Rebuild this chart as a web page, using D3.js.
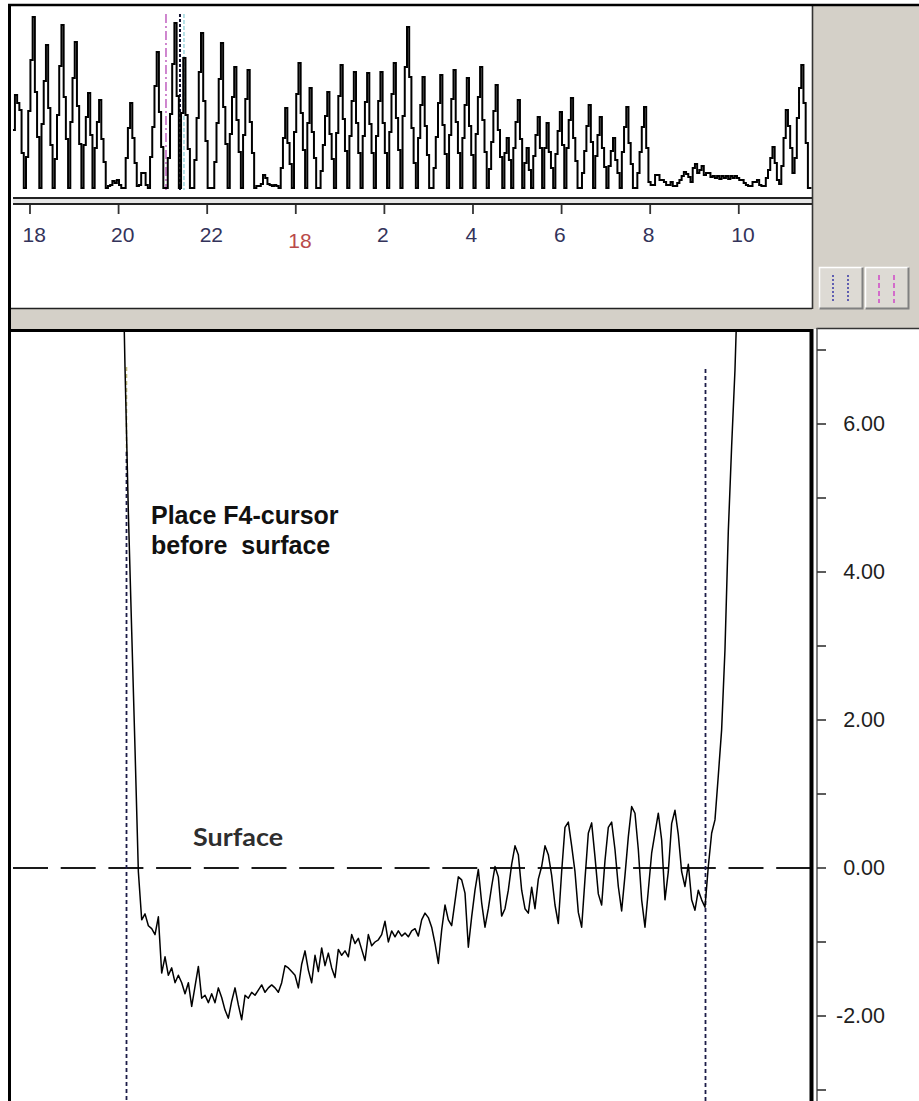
<!DOCTYPE html>
<html>
<head>
<meta charset="utf-8">
<script src="https://cdn.jsdelivr.net/npm/d3@7"></script>
<style>
  html, body { margin: 0; padding: 0; background: #ffffff; }
  svg { display: block; }
</style>
</head>
<body>
<svg id="chart" width="919" height="1101"></svg>
<script>
// ---------------- Overview record (3-minute samples) ----------------
const overviewStart = 17.61;   // hours, first sample
const overviewStep = 0.05;     // hours between samples (3 min)
const overviewValues = [
  58, 93, 85, 78, 35, 0,
  31, 77, 128, 171, 96, 51,
  0, 64, 107, 143, 80, 43,
  0, 29, 73, 122, 163, 91, 49,
  0, 66, 110, 146, 82, 44,
  0, 43, 71, 95, 53,
  0, 40, 66, 88, 49, 26,
  0, 2, 3, 7, 5, 8, 3, 0, 0,
  30, 60, 85, 50, 25,
  2, 3, 15, 15, 3, 0,
  31, 61, 102, 136, 76, 41,
  0, 0,
  30, 74, 124, 165, 92,
  0, 75, 130, 73, 39,
  0, 0,
  28, 70, 116, 155, 87, 47,
  0, 0, 0,
  26, 65, 109, 145, 81, 44,
  0, 54, 91, 121, 68, 36,
  0, 53, 89, 118, 66, 35,
  0, 2, 2, 4, 13, 10, 4, 3, 2, 3, 2, 0,
  20, 50, 80, 45, 24,
  0, 56, 94, 125, 75, 38,
  0, 65, 100, 56, 30,
  0, 0,
  17, 43, 72, 96, 54, 29,
  0, 55, 92, 123, 69, 37,
  0, 52, 87, 116, 65, 35,
  0, 52, 86, 115, 64, 35,
  0, 52, 87, 116, 65, 35,
  0, 56, 94, 125, 70, 38,
  0, 72, 121, 161, 111, 60, 25,
  0, 50, 83, 111, 62, 33,
  0, 0,
  20, 51, 85, 113, 63, 34,
  0, 53, 89, 118, 66, 35,
  0, 50, 83, 110, 62, 33,
  0, 54, 91, 121, 68, 36,
  0, 19, 46, 77, 103, 58, 31,
  0, 35, 50, 28,
  0, 40, 66, 88, 49,
  0, 25, 40, 18,
  0, 32, 53, 71, 40,
  0, 40, 65, 36, 20,
  0, 34, 57, 76, 43,
  0, 40, 68, 90, 50, 27,
  0, 0,
  15, 37, 62, 83, 46,
  0, 32, 53, 71, 40, 21,
  0, 22, 37, 50, 28, 15,
  0, 36, 61, 81, 45, 24,
  0, 0,
  15, 36, 61, 81, 40,
  6, 3, 3, 13, 13, 8, 8, 6, 3, 3, 6, 2, 2, 5, 8, 12, 16, 14, 11, 6,
  20, 24, 15, 18, 22, 13, 15, 15, 11, 12, 10, 12, 9, 12, 10, 12, 9, 12, 10, 12,
  10, 8, 8, 5, 3, 2, 2, 6, 6, 8, 3, 2, 2, 10, 18, 30, 41, 25, 8, 4,
  22, 50, 78, 62, 40, 15, 30, 70, 100, 123, 85, 45, 0, 0, 0
];
const overviewMax = 178;
const overviewTicks = [18, 20, 22, 24, 26, 28, 30, 32, 34];
const overviewTickLabels = ["18", "20", "22", "18", "2", "4", "6", "8", "10"];
const overviewDayTick = 24;                      // date change, labelled with the day
const overviewCursors = [21.07, 21.386, 21.476]; // cursor times

// ---------------- Detail profile ----------------
const profileValues = [
  9.0, 6.75, 4.8, 3.2, 1.6, -0.05, -0.70, -0.62, -0.78, -0.82,
  -0.90, -0.66, -1.42, -1.20, -1.45, -1.35, -1.55, -1.45, -1.55, -1.70,
  -1.55, -1.87, -1.60, -1.33, -1.76, -1.72, -1.82, -1.70, -1.82, -1.62,
  -1.75, -1.92, -2.03, -1.80, -1.62, -1.85, -2.05, -1.72, -1.76, -1.68,
  -1.72, -1.65, -1.58, -1.68, -1.62, -1.58, -1.62, -1.68, -1.55, -1.32,
  -1.35, -1.40, -1.45, -1.62, -1.30, -1.12, -1.38, -1.55, -1.18, -1.40,
  -1.08, -1.32, -1.15, -1.35, -1.48, -1.10, -1.18, -1.12, -1.20, -0.90,
  -1.02, -0.95, -1.10, -1.25, -0.90, -1.05, -1.00, -0.97, -0.90, -0.72,
  -1.00, -0.85, -0.93, -0.85, -0.92, -0.88, -0.93, -0.85, -0.82, -0.92,
  -0.70, -0.61, -0.67, -0.80, -1.02, -1.29, -0.84, -0.50, -0.70, -0.78,
  -0.45, -0.12, -0.16, -0.34, -1.07, -0.66, -0.30, -0.02, -0.47, -0.80,
  -0.55, -0.25, 0.02, -0.12, -0.65, -0.55, -0.30, 0.05, 0.30, 0.18,
  -0.30, -0.55, -0.61, -0.26, -0.55, -0.15, 0.02, 0.30, 0.18, -0.10,
  -0.50, -0.75, -0.05, 0.55, 0.62, 0.30, -0.05, -0.60, -0.80, -0.15,
  0.47, 0.61, 0.15, -0.35, -0.50, 0.10, 0.55, 0.62, 0.25, -0.25,
  -0.58, -0.10, 0.42, 0.83, 0.74, 0.25, -0.43, -0.80, -0.30, 0.20,
  0.47, 0.74, 0.38, -0.43, -0.05, 0.60, 0.78, 0.45, -0.05, -0.25,
  0.05, -0.43, -0.57, -0.30, -0.43, -0.53, 0.02, 0.47, 0.65, 1.25,
  1.87, 2.95, 4.55, 5.70, 6.73, 8.20, 10.0
];
const profileMinorTicks = [-3, -2, -1, 0, 1, 2, 3, 4, 5, 6, 7];
const profileLabelTicks = [-2, 0, 2, 4, 6];
const surfaceLevel = 0;
const profileCursors = [1.44, 175.0];   // sample positions of the two cursors

// ---------------- Layout ----------------
const svg = d3.select("#chart");
const winGray = "#d4d0c8";
const fmt = d3.formatLocale({
  decimal: ".", thousands: ",", grouping: [3], currency: ["", ""], minus: "-"
}).format(".2f");

const ovPlot = { left: 13, right: 811.5, top: 8, bottom: 197 };
const mainPlot = { left: 12, right: 810, top: 332, bottom: 1101 };

const xOv = d3.scaleLinear()
  .domain([overviewStart, overviewStart + 18.04])
  .range([12.71, 12.71 + 18.04 * 44.3]);
const yOv = d3.scaleLinear().domain([0, overviewMax]).range([188, 10]);

const xPr = d3.scaleLinear().domain([0, 186]).range([121.7, 121.7 + 186 * 3.333]);
const yPr = d3.scaleLinear().domain([-3, 7]).range([868 + 3 * 74, 868 - 7 * 74]);

const defs = svg.append("defs");
defs.append("clipPath").attr("id", "clipOv")
  .append("rect").attr("x", ovPlot.left).attr("y", ovPlot.top)
  .attr("width", ovPlot.right - ovPlot.left).attr("height", ovPlot.bottom - ovPlot.top);
defs.append("clipPath").attr("id", "clipMain")
  .append("rect").attr("x", mainPlot.left).attr("y", mainPlot.top)
  .attr("width", mainPlot.right - mainPlot.left - 1).attr("height", mainPlot.bottom - mainPlot.top);

// window backgrounds
svg.append("rect").attr("x", 0).attr("y", 0).attr("width", 919).attr("height", 1101).attr("fill", "#ffffff");
svg.append("rect").attr("x", 812).attr("y", 5).attr("width", 107).attr("height", 304).attr("fill", winGray);
svg.append("rect").attr("x", 11).attr("y", 308).attr("width", 908).attr("height", 21).attr("fill", winGray);

// ---------------- Overview panel ----------------
const ov = svg.append("g");

// cursor lines behind the record
const cursorStyles = [
  { color: "#c060c0", dash: "9,3,2,3", width: 1.5 },
  { color: "#101030", dash: "3,2", width: 2 },
  { color: "#8fd0d8", dash: "4,2", width: 1.3 }
];
overviewCursors.forEach((t, i) => {
  ov.append("line")
    .attr("x1", xOv(t)).attr("x2", xOv(t))
    .attr("y1", 14).attr("y2", 190)
    .attr("stroke", cursorStyles[i].color)
    .attr("stroke-width", cursorStyles[i].width)
    .attr("stroke-dasharray", cursorStyles[i].dash);
});

const ovLine = d3.line()
  .x((d, i) => xOv(overviewStart + i * overviewStep))
  .y(d => yOv(d))
  .curve(d3.curveStepAfter);

ov.append("path")
  .datum(overviewValues.concat([0]))
  .attr("clip-path", "url(#clipOv)")
  .attr("d", ovLine)
  .attr("fill", "none")
  .attr("stroke", "#000")
  .attr("stroke-width", 2)
  .attr("stroke-linejoin", "miter");

// time axis bar (double rule)
ov.append("rect").attr("x", 13).attr("y", 198).attr("width", 799).attr("height", 6)
  .attr("fill", "#e6e6e6");
ov.append("line").attr("x1", 13).attr("x2", 812).attr("y1", 198).attr("y2", 198)
  .attr("stroke", "#222").attr("stroke-width", 1.8);
ov.append("line").attr("x1", 13).attr("x2", 812).attr("y1", 204).attr("y2", 204)
  .attr("stroke", "#222").attr("stroke-width", 1.8);

const ovAxis = ov.append("g");
ovAxis.selectAll("line.tick").data(overviewTicks).join("line")
  .attr("class", "tick")
  .attr("x1", d => xOv(d)).attr("x2", d => xOv(d))
  .attr("y1", 205).attr("y2", 214)
  .attr("stroke", "#333").attr("stroke-width", 1.8);
ovAxis.selectAll("text").data(overviewTicks).join("text")
  .attr("x", d => xOv(d) - 7.5)
  .attr("y", d => d === overviewDayTick ? 248 : 242)
  .attr("font-family", "'Liberation Sans', Arial, sans-serif")
  .attr("font-size", 21)
  .attr("fill", d => d === overviewDayTick ? "#b94a4a" : "#33335a")
  .text((d, i) => overviewTickLabels[i]);

// panel borders
svg.append("line").attr("x1", 11).attr("x2", 812).attr("y1", 308.5).attr("y2", 308.5)
  .attr("stroke", "#222").attr("stroke-width", 1.6);
svg.append("line").attr("x1", 812.5).attr("x2", 812.5).attr("y1", 5).attr("y2", 309)
  .attr("stroke", "#333").attr("stroke-width", 1.6);

// cursor buttons
function button(x, color, dash) {
  const g = svg.append("g");
  g.append("rect").attr("x", x).attr("y", 267).attr("width", 44).attr("height", 42)
    .attr("fill", "#dddad4");
  g.append("path").attr("d", `M${x + 0.5},${309} V${267.5} H${x + 44}`)
    .attr("fill", "none").attr("stroke", "#ffffff").attr("stroke-width", 1.5);
  g.append("path").attr("d", `M${x + 0.5},${308.5} H${x + 43.5} V${267.5}`)
    .attr("fill", "none").attr("stroke", "#808080").attr("stroke-width", 2);
  [x + 14, x + 29].forEach(lx => {
    g.append("line").attr("x1", lx).attr("x2", lx).attr("y1", 275).attr("y2", 303)
      .attr("stroke", color).attr("stroke-width", 1.6).attr("stroke-dasharray", dash);
  });
}
button(819, "#4040a8", "2,2");
button(865, "#d050c8", "5,3");

// ---------------- Detail panel ----------------
const main = svg.append("g");

// right axis area
svg.append("rect").attr("x", 814).attr("y", 329).attr("width", 105).attr("height", 772).attr("fill", "#fff");

// surface reference line
main.append("line")
  .attr("x1", 13).attr("x2", mainPlot.right)
  .attr("y1", yPr(surfaceLevel)).attr("y2", yPr(surfaceLevel))
  .attr("stroke", "#1a1a1a").attr("stroke-width", 1.8)
  .attr("stroke-dasharray", "35,12.7");

// cursors
profileCursors.forEach((k, i) => {
  const x = Math.round(xPr(k)) + 0.5;
  main.append("line")
    .attr("x1", x).attr("x2", x)
    .attr("y1", i === 0 ? 452 : 369).attr("y2", 1101)
    .attr("stroke", "#1c1c48").attr("stroke-width", 1.8)
    .attr("stroke-dasharray", "4,3");
  if (i === 0) {
    main.append("line")
      .attr("x1", x).attr("x2", x).attr("y1", 367).attr("y2", 452)
      .attr("stroke", "#bdb77a").attr("stroke-width", 1.6)
      .attr("stroke-dasharray", "4,3");
  }
});

const prLine = d3.line()
  .x((d, i) => xPr(i))
  .y(d => yPr(d));

main.append("path")
  .datum(profileValues)
  .attr("clip-path", "url(#clipMain)")
  .attr("d", prLine)
  .attr("fill", "none")
  .attr("stroke", "#000")
  .attr("stroke-width", 1.5)
  .attr("stroke-linejoin", "round");

// annotations
main.append("text").attr("x", 151).attr("y", 524)
  .attr("font-family", "'Liberation Sans', Arial, sans-serif").attr("font-weight", "bold")
  .attr("font-size", 25).attr("fill", "#111")
  .text("Place F4-cursor");
main.append("text").attr("x", 151).attr("y", 554)
  .attr("font-family", "'Liberation Sans', Arial, sans-serif").attr("font-weight", "bold")
  .attr("font-size", 25).attr("fill", "#111")
  .attr("xml:space", "preserve").style("white-space", "pre")
  .text("before  surface");
main.append("text").attr("x", 193).attr("y", 846)
  .attr("font-family", "Lato, 'Open Sans', sans-serif").attr("font-weight", "bold")
  .attr("font-size", 25).attr("fill", "#2e2e2e")
  .attr("textLength", 90).attr("lengthAdjust", "spacingAndGlyphs")
  .text("Surface");

// frame lines of the detail panel
svg.append("line").attr("x1", 11).attr("x2", 812).attr("y1", 330.5).attr("y2", 330.5)
  .attr("stroke", "#000").attr("stroke-width", 3.2);
svg.append("line").attr("x1", 811.5).attr("x2", 811.5).attr("y1", 329).attr("y2", 1101)
  .attr("stroke", "#000").attr("stroke-width", 4);
svg.append("line").attr("x1", 816.5).attr("x2", 919).attr("y1", 328.5).attr("y2", 328.5)
  .attr("stroke", "#333").attr("stroke-width", 1.5);
svg.append("line").attr("x1", 817).attr("x2", 817).attr("y1", 328).attr("y2", 1101)
  .attr("stroke", "#555").attr("stroke-width", 1.5);

// value axis
const yAxisG = svg.append("g");
yAxisG.selectAll("line").data(profileMinorTicks).join("line")
  .attr("x1", 817).attr("x2", 826)
  .attr("y1", d => yPr(d)).attr("y2", d => yPr(d))
  .attr("stroke", "#333").attr("stroke-width", 1.6);
yAxisG.selectAll("text").data(profileLabelTicks).join("text")
  .attr("x", 885).attr("y", d => yPr(d))
  .attr("text-anchor", "end").attr("dominant-baseline", "central")
  .attr("font-family", "'Liberation Sans', Arial, sans-serif")
  .attr("font-size", 21.5).attr("fill", "#1e1e1e")
  .text(d => fmt(d));

// outer window frame
svg.append("line").attr("x1", 8).attr("x2", 919).attr("y1", 5).attr("y2", 5)
  .attr("stroke", "#000").attr("stroke-width", 2.5);
svg.append("line").attr("x1", 9.5).attr("x2", 9.5).attr("y1", 4).attr("y2", 1101)
  .attr("stroke", "#000").attr("stroke-width", 3);
</script>
</body>
</html>
